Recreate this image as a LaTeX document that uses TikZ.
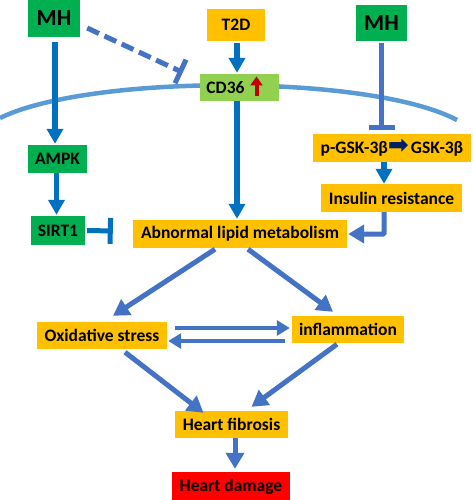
\documentclass[tikz,border=0pt]{standalone}
\usepackage{fontspec}
\setmainfont{Carlito}
\newfontfamily\symf{DejaVu Sans}
\usepackage{tikz}
\usetikzlibrary{arrows.meta,calc}
\definecolor{boxgreen}{HTML}{00B050}
\definecolor{boxorange}{HTML}{FFC000}
\definecolor{boxlime}{HTML}{92D050}
\definecolor{boxred}{HTML}{FF0000}
\definecolor{lineA}{HTML}{0070C0}
\definecolor{lineB}{HTML}{4472C4}
\definecolor{membrane}{HTML}{5B9BD5}
\definecolor{upred}{HTML}{C00000}
\definecolor{navy}{HTML}{002060}

\begin{document}
\begin{tikzpicture}[x=1pt,y=-1pt,
  box/.style={rectangle,inner sep=0pt,text=black,font=\fontsize{17.5}{20}\selectfont\bfseries},
  gbox/.style={box,fill=boxgreen},
  obox/.style={box,fill=boxorange},
  arrA/.style={line width=5.5pt,draw=lineA,-{Triangle[length=15pt,width=16pt]}},
  arrB/.style={line width=5pt,draw=lineB,-{Triangle[length=16pt,width=18pt]}},
  arrH/.style={line width=4.5pt,draw=lineB,-{Triangle[length=13pt,width=15pt]}},
  inh/.style={line width=5pt,-{Bar[width=26pt]}}]
\useasboundingbox (0,0) rectangle (473,500);
\draw[line width=4.5pt,membrane] (0,118) .. controls (90,74) and (370,74) .. (457,120);

\node (mhl) at (54,18.5) [gbox,minimum width=52pt,minimum height=37pt,font=\fontsize{23}{26}\selectfont\bfseries] {MH};
\node (t2d) at (236,25) [obox,minimum width=58pt,minimum height=32pt] {T2D};
\node (mhr) at (381.5,23) [gbox,minimum width=51pt,minimum height=36pt,font=\fontsize{23}{26}\selectfont\bfseries] {MH};
\node (cd36) at (239.5,87.5) [box,fill=boxlime,minimum width=79pt,minimum height=27pt] {CD36\kern28pt};
\node (ampk) at (57.5,159) [gbox,minimum width=59pt,minimum height=28pt] {AMPK};
\node (sirt) at (58,230.5) [gbox,minimum width=54pt,minimum height=29pt] {SIRT1};
\node (abn) at (240,234) [obox,minimum width=214pt,minimum height=28pt] {Abnormal lipid metabolism};
\node (gsk) at (392,148) [obox,minimum width=158pt,minimum height=28pt] {p-GSK-3β{\symf\fontsize{25}{25}\selectfont\color{navy}➡}\kern2pt GSK-3β};
\node (ins) at (391.5,198) [obox,minimum width=141pt,minimum height=28pt] {Insulin resistance};
\node (oxi) at (102,335.5) [obox,minimum width=130pt,minimum height=27pt] {Oxidative stress};
\node (inf) at (348,329.5) [obox,minimum width=112pt,minimum height=27pt] {inflammation};
\node (hf) at (231.5,424.5) [obox,minimum width=113pt,minimum height=27pt] {Heart fibrosis};
\node (hd) at (231,487) [box,fill=boxred,minimum width=118pt,minimum height=30pt] {Heart damage};

\draw[line width=4pt,upred,-{Triangle[length=9pt,width=12pt]}] ($(cd36.center)+(17,8.5)$) -- ($(cd36.center)+(17,-11)$);

\draw[arrA] ($(mhl.south)+(1,5)$) -- ($(ampk.north)+(-2.5,-1)$);
\draw[arrA] ($(ampk.south)+(-1,0)$) -- ($(sirt.north)+(-1.5,-1)$);
\draw[arrA] ($(t2d.south)+(1,2)$) -- ($(cd36.north)+(-2.5,-1)$);
\draw[arrA] ($(cd36.south)+(-2.5,0)$) -- ($(abn.north)+(-3,-1)$);
\draw[arrA] ($(gsk.south)+(-8,0)$) -- ($(ins.north)+(-7.5,0)$);
\draw[inh,lineA] ($(sirt.east)+(2,0)$) -- ($(abn.west)+(-20,-3)$);
\draw[inh,lineB] ($(mhr.south)+(0,2)$) -- ($(mhr.south |- gsk.north)+(0,-4)$);
\draw[inh,lineB,dash pattern=on 13pt off 6pt] ($(mhl.east)+(7,9.5)$) -- ($(cd36.west)+(-17,-15)$);
\draw[arrB,rounded corners=1pt] ($(ins.south)+(-7.5,0)$) |- ($(abn.east)+(1,0)$);

\draw[arrB] ($(abn.south)+(-25,1)$) -- ($(oxi.north)+(11,-6)$);
\draw[arrB] ($(abn.south)+(8,1)$) -- ($(inf.north)+(-15,-4)$);
\draw[arrH] ($(oxi.east)+(8,-7.5)$) -- ($(inf.west)+(-2,-1.5)$);
\draw[arrH] ($(inf.west)+(-7,11.5)$) -- ($(oxi.east)+(1,5.5)$);
\draw[arrB] ($(oxi.south)+(23,3)$) -- ($(hf.north)+(-28,2)$);
\draw[arrB] ($(inf.south)+(-11,1)$) -- ($(hf.north)+(20,-4)$);
\draw[arrB] ($(hf.south)+(3.5,0)$) -- ($(hd.north)+(4,-3)$);
\end{tikzpicture}
\end{document}
